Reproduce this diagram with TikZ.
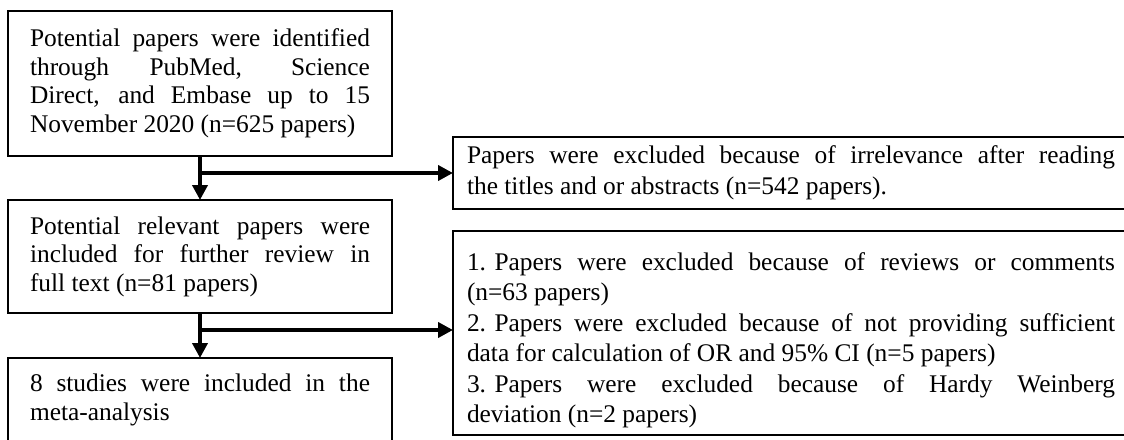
\documentclass[tikz,border=0pt]{standalone}
\usepackage{fontspec}
\setmainfont{Liberation Serif}
\usetikzlibrary{arrows.meta,positioning}
\tikzset{
    %Define standard arrow tip
    >={Triangle[width=7.5pt,length=7.5pt]},
    %Define style for boxes
    stage/.style={
           rectangle,
           draw=black, line width=1pt,
           outer sep=0pt,
           text width=170pt,
           inner xsep=11pt,
           inner ysep=0pt,
           font=\fontsize{12.7}{14.25}\selectfont,
           align=justify},
    excluded/.style={
           rectangle,
           draw=black, line width=1pt,
           outer sep=0pt,
           text width=324pt,
           inner xsep=7pt,
           inner ysep=0pt,
           font=\fontsize{12.7}{15.25}\selectfont,
           align=justify},
    % Define arrow style
    pil/.style={
           ->,
           line width=2pt}
}
\begin{document}
\begin{tikzpicture}[x=0.5pt,y=-0.5pt]
\useasboundingbox (0,0) rectangle (1124,439);
\clip (0,0) rectangle (1124,439);
\node[stage, minimum height=72.5pt] (1) at (200,83.5)
  {\parfillskip=0pt Potential papers were identified\linebreak through PubMed, Science\linebreak Direct, and Embase up to 15\linebreak November 2020 (n=625 papers)};
\node[stage, minimum height=56.5pt, below=22pt of 1] (2)
  {Potential relevant papers were\linebreak included for further review in\linebreak full text (n=81 papers)};
\node[stage, minimum height=42pt, below=22.5pt of 2] (3)
  {8 studies were included in the\linebreak meta-analysis};
\node[excluded, minimum height=36pt, anchor=west] (4) at (453,173)
  {Papers were excluded because of irrelevance after reading\linebreak the titles and or abstracts (n=542 papers).};
\node[excluded, minimum height=102pt, anchor=north west] (5) at (453,231)
  {\rule{0pt}{16pt}\mbox{1. Papers} were excluded because of reviews or comments\linebreak (n=63 papers)\\
   \mbox{2. Papers} were excluded because of not providing sufficient\linebreak data for calculation of OR and 95\% CI (n=5 papers)\\
   \mbox{3. Papers} were excluded because of Hardy Weinberg\linebreak deviation (n=2 papers)};

\coordinate[below=8.5pt of 1] (b1);
\coordinate[below=8.5pt of 2] (b2);

\path[pil]
	(1) edge (2)
	(2) edge (3);
\draw[pil] (b1) -- (b1 -| 4.west);
\draw[pil] (b2) -- (b2 -| 5.west);

\end{tikzpicture}
\end{document}
